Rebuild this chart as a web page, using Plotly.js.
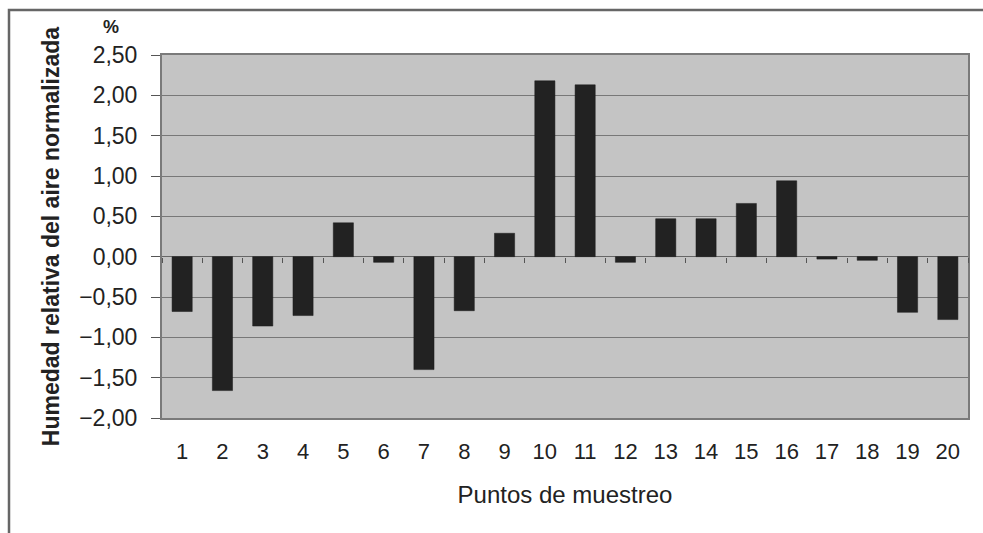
<!DOCTYPE html>
<html>
<head>
<meta charset="utf-8">
<script src="https://cdn.plot.ly/plotly-3.0.1.min.js"></script>
<style>
html,body{margin:0;padding:0;background:#fff;}
#chart{width:983px;height:533px;}
</style>
</head>
<body>
<div id="chart"></div>
<script>
// Data
const puntos = ["1","2","3","4","5","6","7","8","9","10","11","12","13","14","15","16","17","18","19","20"];
const humedad = [-0.68, -1.66, -0.86, -0.73, 0.42, -0.07, -1.40, -0.67, 0.29, 2.18,
                 2.13, -0.07, 0.47, 0.47, 0.66, 0.94, -0.03, -0.045, -0.69, -0.78];
const yTicks = [-2.0, -1.5, -1.0, -0.5, 0.0, 0.5, 1.0, 1.5, 2.0, 2.5];
const separatorTicks = [0.5,1.5,2.5,3.5,4.5,5.5,6.5,7.5,8.5,9.5,10.5,11.5,12.5,13.5,14.5,15.5,16.5,17.5,18.5,19.5,20.5];

const yMin = -2.0, yMax = 2.5;
const zeroPos = (0 - yMin) / (yMax - yMin);

const trace = {
  type: "bar",
  x: puntos.map((p, i) => i + 1),
  y: humedad,
  marker: {color: "#222222", line: {color: "#1a1a1a", width: 0.5}},
  hoverinfo: "x+y"
};

// invisible trace to drive the zero-line category ticks axis
const tickTrace = {
  type: "scatter", mode: "markers",
  x: separatorTicks, y: separatorTicks.map(() => 0),
  xaxis: "x2", yaxis: "y",
  marker: {opacity: 0}, hoverinfo: "skip", showlegend: false
};

const layout = {
  width: 983, height: 533,
  margin: {l: 162, r: 15, t: 55, b: 115, pad: 0},
  paper_bgcolor: "#ffffff",
  plot_bgcolor: "#c4c4c4",
  showlegend: false,
  bargap: 0.5,
  separators: ",.",
  font: {family: "Liberation Sans, Arial, sans-serif", color: "#222"},
  xaxis: {
    range: [0.5, 20.5],
    tickvals: puntos.map((p, i) => i + 1),
    ticktext: puntos,
    ticks: "",
    showgrid: false,
    zeroline: false,
    showline: true, mirror: true, linecolor: "#7a7a7a", linewidth: 2,
    ticklabelstandoff: 13,
    tickfont: {size: 22, color: "#222"},
    title: {text: "Puntos de muestreo", font: {size: 24, color: "#222"}, standoff: 23},
    fixedrange: true
  },
  xaxis2: {
    overlaying: "x", anchor: "free", position: zeroPos,
    range: [0.5, 20.5],
    tickvals: separatorTicks,
    ticks: "outside", ticklen: 5, tickcolor: "#555", tickwidth: 1,
    showticklabels: false, showgrid: false, zeroline: false, showline: false,
    fixedrange: true
  },
  yaxis: {
    range: [yMin, yMax],
    tickvals: yTicks,
    tickformat: ".2f",
    ticks: "outside", ticklen: 9, tickcolor: "#555", tickwidth: 1,
    ticklabelstandoff: 9,
    showgrid: true, gridcolor: "#787878", gridwidth: 1,
    zeroline: true, zerolinecolor: "#666", zerolinewidth: 1.5,
    showline: true, mirror: true, linecolor: "#7a7a7a", linewidth: 2,
    tickfont: {size: 23, color: "#222"},
    title: {text: "<b>Humedad relativa del aire normalizada</b>", font: {size: 23, color: "#222"}, standoff: 13},
    fixedrange: true
  },
  annotations: [{
    xref: "paper", yref: "paper",
    x: (111 - 162) / 806, y: (418 - 27) / 363,
    xanchor: "center", yanchor: "middle",
    text: "<b>%</b>", showarrow: false,
    font: {size: 18, color: "#222"}
  }],
  shapes: [{
    type: "rect", xref: "paper", yref: "paper",
    x0: (9 - 162) / 806, x1: 1.2,
    y0: -0.6, y1: (418 - 10) / 363,
    line: {color: "#666", width: 2.5}, layer: "below"
  }]
};

Plotly.newPlot("chart", [trace, tickTrace], layout, {displayModeBar: false, staticPlot: true});
</script>
</body>
</html>
